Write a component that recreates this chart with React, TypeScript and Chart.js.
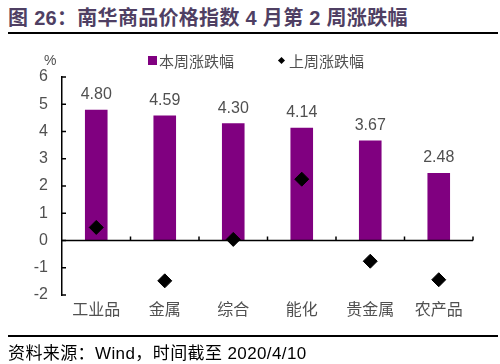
import React, { useEffect, useRef } from "react";
import { Chart, registerables } from "chart.js";

Chart.register(...registerables);

const categories = ["工业品", "金属", "综合", "能化", "贵金属", "农产品"];
const thisWeek = [4.8, 4.59, 4.3, 4.14, 3.67, 2.48];
const lastWeek = [0.48, -1.48, 0.04, 2.25, -0.76, -1.44];
const yTicks = [-2, -1, 0, 1, 2, 3, 4, 5, 6];

const FONT = "'Liberation Sans', Arial, 'Noto Sans CJK SC', sans-serif";
const TEXT = "#505050";

const axisPlugin = {
  id: "axisPlugin",
  afterDatasetsDraw(chart: any) {
    const { ctx, chartArea, scales } = chart;
    const y = scales.y;
    const y0 = y.getPixelForValue(0);
    ctx.save();
    ctx.strokeStyle = "#000";
    ctx.lineWidth = 1.5;
    ctx.beginPath();
    ctx.moveTo(chartArea.left, y0);
    ctx.lineTo(chartArea.right, y0);
    ctx.stroke();
    const n = categories.length;
    const w = (chartArea.right - chartArea.left) / n;
    for (let i = 1; i <= n; i++) {
      const px = chartArea.left + w * i;
      ctx.beginPath();
      ctx.moveTo(px, y0);
      ctx.lineTo(px, y0 - 4);
      ctx.stroke();
    }
    yTicks.forEach((v) => {
      const py = y.getPixelForValue(v);
      ctx.beginPath();
      ctx.moveTo(chartArea.left, py);
      ctx.lineTo(chartArea.left + 4, py);
      ctx.stroke();
    });
    ctx.fillStyle = TEXT;
    ctx.font = `16px ${FONT}`;
    ctx.textAlign = "center";
    ctx.textBaseline = "bottom";
    const meta = chart.getDatasetMeta(0);
    meta.data.forEach((bar: any, i: number) => {
      ctx.fillText(thisWeek[i].toFixed(2), bar.x, bar.y - 7);
    });
    ctx.restore();
  },
};

export default function App() {
  const ref = useRef<HTMLCanvasElement>(null);
  useEffect(() => {
    if (!ref.current) return;
    const chart = new Chart(ref.current, {
      type: "bar",
      data: {
        labels: categories,
        datasets: [
          {
            type: "bar",
            label: "本周涨跌幅",
            data: thisWeek,
            backgroundColor: "#800080",
            barPercentage: 0.33,
            categoryPercentage: 1,
            order: 2,
          },
          {
            type: "scatter" as any,
            label: "上周涨跌幅",
            data: lastWeek,
            backgroundColor: "#000",
            borderColor: "#000",
            pointStyle: "rectRot",
            pointRadius: 7,
            showLine: false,
            order: 1,
          } as any,
        ],
      },
      options: {
        animation: false,
        responsive: false,
        layout: { padding: { top: 77, right: 27, left: 0, bottom: 0 } },
        plugins: { legend: { display: false }, tooltip: { enabled: false }, title: { display: false } },
        scales: {
          x: {
            type: "category",
            offset: true,
            grid: { display: false, drawTicks: false },
            border: { display: false },
            ticks: { color: TEXT, font: { size: 16, family: FONT }, padding: 6 },
            afterFit(scale: any) {
              scale.height = 69;
            },
          },
          y: {
            min: -2,
            max: 6,
            grid: { display: true, drawOnChartArea: false, drawTicks: false },
            border: { display: true, color: "#000", width: 1.5 },
            ticks: {
              stepSize: 1,
              color: TEXT,
              font: { size: 16, family: FONT },
              padding: 14,
            },
            afterFit(scale: any) {
              scale.width = 62;
            },
          },
        },
      },
      plugins: [axisPlugin],
    } as any);
    return () => chart.destroy();
  }, []);

  return (
    <div style={{ position: "fixed", left: 0, top: 0, width: 500, height: 364, background: "#fff", overflow: "hidden", fontFamily: FONT }}>
      <div style={{ position: "absolute", left: 8, top: 2, fontSize: 20, fontWeight: "bold", color: "#4f3f63", whiteSpace: "nowrap", letterSpacing: 0.3 }}>
        图 26：南华商品价格指数 4 月第 2 周涨跌幅
      </div>
      <div style={{ position: "absolute", left: 8, top: 32, width: 490, height: 2, background: "#000" }} />
      <canvas ref={ref} width={500} height={364} style={{ position: "absolute", left: 0, top: 0 }} />
      <div style={{ position: "absolute", left: 44, top: 52, fontSize: 14, color: TEXT }}>%</div>
      <div style={{ position: "absolute", left: 148, top: 50, fontSize: 15, color: TEXT, display: "flex", alignItems: "center", whiteSpace: "nowrap" }}>
        <span style={{ display: "inline-block", width: 9, height: 9, background: "#800080", marginRight: 2 }} />
        本周涨跌幅
      </div>
      <div style={{ position: "absolute", left: 279, top: 50, fontSize: 15, color: TEXT, display: "flex", alignItems: "center", whiteSpace: "nowrap" }}>
        <span style={{ display: "inline-block", width: 5, height: 5, background: "#000", transform: "rotate(45deg)", marginRight: 5 }} />
        上周涨跌幅
      </div>
      <div style={{ position: "absolute", left: 8, top: 335, width: 490, height: 2, background: "#000" }} />
      <div style={{ position: "absolute", left: 8, top: 339, fontSize: 17, color: "#000", whiteSpace: "nowrap", letterSpacing: 0.4 }}>
        资料来源：Wind，时间截至 2020/4/10
      </div>
    </div>
  );
}
